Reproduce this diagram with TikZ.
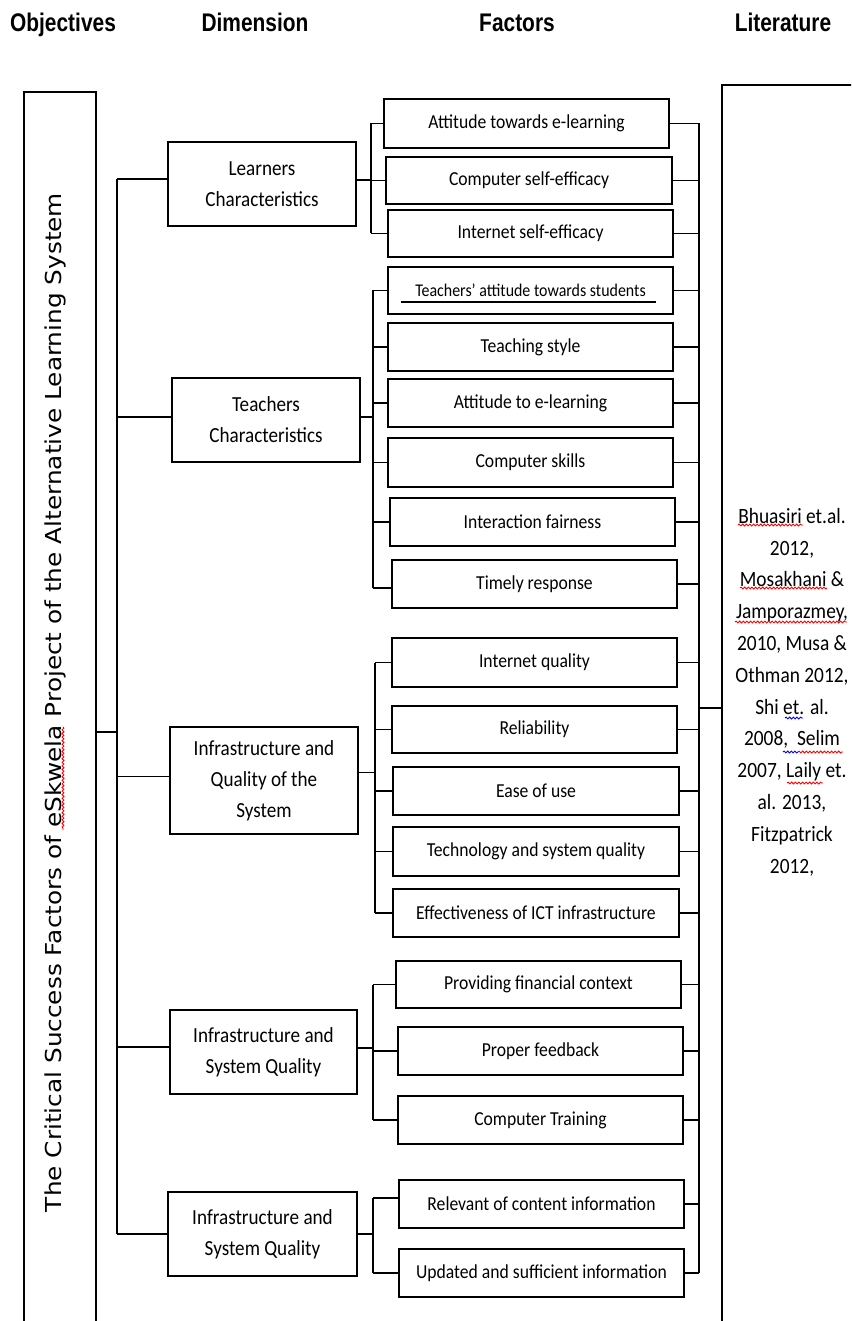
\documentclass[tikz,border=0pt]{standalone}
\usepackage{fontspec}
\setmainfont[FakeStretch=0.89]{Carlito}
\newfontfamily\hdrfont[FakeStretch=0.82]{Liberation Sans}
\newfontfamily\rotfont{DejaVu Sans}
\usetikzlibrary{calc,decorations.pathmorphing}
\begin{document}
\begin{tikzpicture}[x=1pt,y=-1pt,
  boxline/.style={draw, line width=2pt, inner sep=0pt},
  fbox/.style={boxline, font=\fontsize{19.8}{24}\selectfont, align=center},
  dbox/.style={boxline, font=\fontsize{21.5}{31}\selectfont, align=center},
  conn/.style={line width=1.9pt},
  hdr/.style={font=\hdrfont\bfseries\fontsize{25.5}{30}\selectfont, anchor=base, inner sep=0pt},
  spell/.style={decorate, decoration={snake, amplitude=0.9pt, segment length=3.6pt}, line width=0.9pt}]
\useasboundingbox (0,0) rectangle (851,1321);
\clip (0,0) rectangle (851,1321);

% headers
\node[hdr] (h1) at (63,31.5) {Objectives};
\node[hdr] (h2) at (255,31.5) {Dimension};
\node[hdr] (h3) at (517,31.5) {Factors};
\node[hdr] (h4) at (783,31.5) {Literature};

% objective box
\node[boxline, minimum width=72, minimum height=1330] (obj) at (60,757) {};
\node[rotate=90, anchor=base, inner sep=0pt] (objtext) at (61,702.5)
  {\resizebox{1019pt}{16.7pt}{\rotfont The Critical Success Factors of eSkwela Project of the Alternative Learning System}};

% literature box
\node[boxline, minimum width=160, minimum height=1330] (lit) at (802,750) {};
\node[font=\fontsize{21.8}{31.8}\selectfont, align=center, inner sep=0pt] (littext) at (792,692)
  {Bhuasiri et.al.\\2012,\\Mosakhani \&\\Jamporazmey,\\2010, Musa \&\\Othman 2012,\\Shi et. al.\\2008,\ \ Selim\\2007, Laily et.\\al. 2013,\\Fitzpatrick\\2012,};

% dimension boxes
\node[dbox, minimum width=188, minimum height=84] (d1) at (262,184) {Learners\\Characteristics};
\node[dbox, minimum width=188, minimum height=84] (d2) at (266,420) {Teachers\\Characteristics};
\node[dbox, minimum width=188, minimum height=107] (d3) at (264,780.5) {Infrastructure and\\Quality of the\\System};
\node[dbox, minimum width=187, minimum height=84] (d4) at (263.5,1052) {Infrastructure and\\System Quality};
\node[dbox, minimum width=189, minimum height=84] (d5) at (262.5,1234) {Infrastructure and\\System Quality};

% factor boxes
\node[fbox, minimum width=285, minimum height=49] (f11) at (526.5,123.5) {Attitude towards e-learning};
\node[fbox, minimum width=286, minimum height=47] (f12) at (529,180.5) {Computer self-efficacy};
\node[fbox, minimum width=285, minimum height=47] (f13) at (530.5,233.5) {Internet self-efficacy};

\node[fbox, minimum width=285, minimum height=47, font=\fontsize{17.9}{22}\selectfont] (f21) at (530.5,290.5) {Teachers' attitude towards students};
\node[fbox, minimum width=285, minimum height=48] (f22) at (530.5,347) {Teaching style};
\node[fbox, minimum width=285, minimum height=48] (f23) at (530.5,403) {Attitude to e-learning};
\node[fbox, minimum width=285, minimum height=49] (f24) at (530.5,462.5) {Computer skills};
\node[fbox, minimum width=285, minimum height=48] (f25) at (532.5,522) {Interaction fairness};
\node[fbox, minimum width=285, minimum height=48] (f26) at (534.5,584) {Timely response};

\node[fbox, minimum width=285, minimum height=49] (f31) at (534.5,662.5) {Internet quality};
\node[fbox, minimum width=285, minimum height=47] (f32) at (534.5,729.5) {Reliability};
\node[fbox, minimum width=286, minimum height=48] (f33) at (536,791) {Ease of use};
\node[fbox, minimum width=286, minimum height=49] (f34) at (536,851.5) {Technology and system quality};
\node[fbox, minimum width=286, minimum height=48] (f35) at (536,913) {Effectiveness of ICT infrastructure};

\node[fbox, minimum width=285, minimum height=47] (f41) at (538.5,984.5) {Providing financial context};
\node[fbox, minimum width=285, minimum height=48] (f42) at (540.5,1051) {Proper feedback};
\node[fbox, minimum width=285, minimum height=48] (f43) at (540.5,1120) {Computer Training};

\node[fbox, minimum width=285, minimum height=48] (f51) at (541.5,1204) {Relevant of content information};
\node[fbox, minimum width=285, minimum height=48] (f52) at (541.5,1273) {Updated and sufficient information};

% underline inside f21
\draw[line width=1.3pt] (401,302) -- (656,302);

% trunk coordinates
\coordinate (T) at (117,0);
\coordinate (S1) at (371,0);
\coordinate (S2) at (373,0);
\coordinate (S3) at (375,0);
\coordinate (S4) at (373,0);
\coordinate (S5) at (373,0);
\coordinate (R) at (699,0);
\coordinate (oc) at (117,732);
\coordinate (lc) at (699,708);

% objective to trunk
\draw[conn] (oc -| obj.east) -- (oc);
\draw[conn] ([yshift=5pt]T |- d1.west) -- (T |- d5.west);
\foreach \d/\s in {d1/5,d2/3,d3/4,d4/5,d5/0}
  \draw[conn] ([yshift=\s pt]\d.west) -- ([yshift=\s pt]\d.west -| T);

% groups
\draw[conn] ([yshift=4pt]d1.east) -- ([yshift=4pt]d1.east -| S1);
\draw[conn] (S1 |- f11.west) -- (S1 |- f13.west);
\foreach \f in {f11,f12,f13} \draw[conn] (\f.west) -- (\f.west -| S1);

\draw[conn] ([yshift=3pt]d2.east) -- ([yshift=3pt]d2.east -| S2);
\draw[conn] (S2 |- f21.west) -- ([yshift=-4pt]S2 |- f26.west);
\foreach \f in {f21,f22,f23,f24,f25} \draw[conn] (\f.west) -- (\f.west -| S2);
\draw[conn] ([yshift=-4pt]f26.west) -- ([yshift=-4pt]f26.west -| S2);

\draw[conn] ([yshift=8pt]d3.east) -- ([yshift=8pt]d3.east -| S3);
\draw[conn] (S3 |- f31.west) -- (S3 |- f35.west);
\foreach \f in {f31,f32,f33,f34,f35} \draw[conn] (\f.west) -- (\f.west -| S3);

\draw[conn] ([yshift=4pt]d4.east) -- ([yshift=4pt]d4.east -| S4);
\draw[conn] (S4 |- f41.west) -- (S4 |- f43.west);
\foreach \f in {f41,f42,f43} \draw[conn] (\f.west) -- (\f.west -| S4);

\draw[conn] (d5.east) -- (d5.east -| S5);
\draw[conn] ([yshift=6pt]S5 |- f51.west) -- (S5 |- f52.west);
\draw[conn] ([yshift=6pt]f51.west) -- ([yshift=6pt]f51.west -| S5);
\draw[conn] (f52.west) -- (f52.west -| S5);

% right collector
\foreach \f in {f11,f12,f13,f21,f22,f23,f24,f25,f26,f31,f32,f33,f34,f35,f41,f42,f43,f51,f52}
  \draw[conn] (\f.east) -- (\f.east -| R);
\draw[conn] (R |- f11.east) -- (R |- f52.east);
\draw[conn] (lc) -- (lc -| lit.west);

% spell-check marks
\draw[spell, red] (63,727) -- (63,830);
\draw[spell, red] (738,525) -- (803,525);
\draw[spell, red] (740,588) -- (827,588);
\draw[spell, red] (735,622) -- (847,622);
\draw[spell, blue] (785,718) -- (803,718);
\draw[spell, blue] (783,752) -- (798,752);
\draw[spell, red] (798,752) -- (843,752);
\draw[spell, red] (787,783) -- (823,783);
\end{tikzpicture}
\end{document}
